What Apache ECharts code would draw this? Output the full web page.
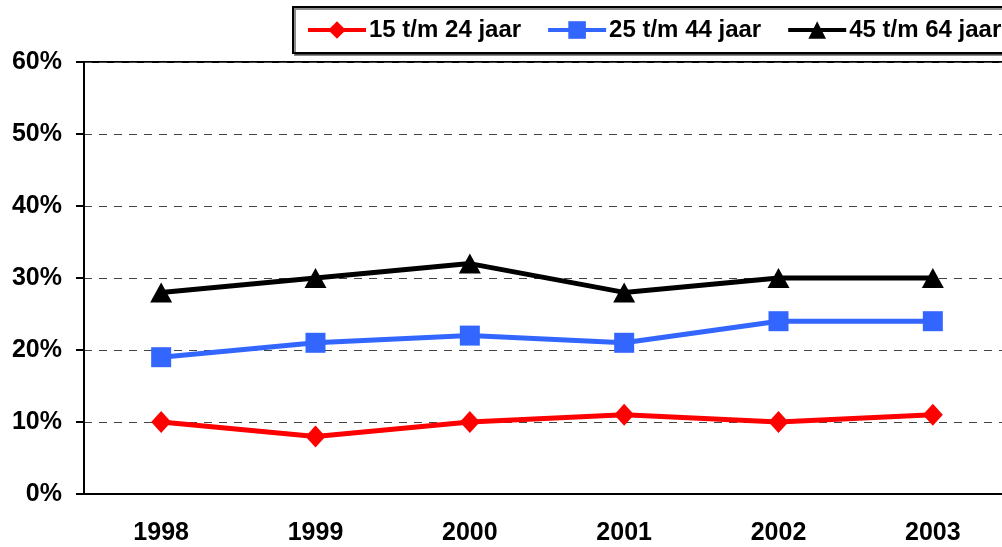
<!DOCTYPE html>
<html>
<head>
<meta charset="utf-8">
<script src="https://cdn.jsdelivr.net/npm/echarts@6/dist/echarts.min.js"></script>
<style>
html, body { margin: 0; padding: 0; background: #fff; overflow: hidden; }
#main { width: 1002px; height: 547px; }
</style>
</head>
<body>
<div id="main"></div>
<script>
var years = ['1998', '1999', '2000', '2001', '2002', '2003'];
var jong = [0.10, 0.08, 0.10, 0.11, 0.10, 0.11];    // 15 t/m 24 jaar
var midden = [0.19, 0.21, 0.22, 0.21, 0.24, 0.24];  // 25 t/m 44 jaar
var oud = [0.28, 0.30, 0.32, 0.28, 0.30, 0.30];     // 45 t/m 64 jaar
var names = ['15 t/m 24 jaar', '25 t/m 44 jaar', '45 t/m 64 jaar'];

var chart = echarts.init(document.getElementById('main'));
var font = 'Liberation Sans, Arial, sans-serif';

option = {
    backgroundColor: '#fff',
    animation: false,
    textStyle: { fontFamily: font },
    legend: {
        left: 293,
        top: 7,
        width: 760,
        padding: [11, 20, 11, 13],
        itemGap: 25,
        itemWidth: 58,
        itemHeight: 22,
        borderColor: '#000',
        borderWidth: 2,
        backgroundColor: '#fff',
        shadowColor: 'rgba(0,0,0,0.45)',
        shadowOffsetX: 2,
        shadowOffsetY: 2,
        shadowBlur: 0,
        lineStyle: { width: 4 },
        textStyle: { fontSize: 24, fontWeight: 'bold', color: '#000', fontFamily: font, padding: [0, 0, 0, -2] },
        data: names
    },
    grid: {
        left: 84,
        top: 62,
        width: 926,
        bottom: 53,
        outerBoundsMode: 'none',
        containLabel: false,
        show: true,
        borderColor: '#000',
        borderWidth: 2
    },
    xAxis: {
        type: 'category',
        data: years,
        axisLine: { lineStyle: { color: '#000', width: 2 } },
        axisTick: { length: 8, lineStyle: { color: '#000', width: 2 } },
        axisLabel: { margin: 27, fontSize: 25, fontWeight: 'bold', color: '#000', fontFamily: font }
    },
    yAxis: {
        type: 'value',
        min: 0,
        max: 0.6,
        interval: 0.1,
        axisLine: { show: true, lineStyle: { color: '#000', width: 2 } },
        axisTick: { show: true, length: 8, lineStyle: { color: '#000', width: 2 } },
        axisLabel: {
            margin: 22,
            fontSize: 25,
            fontWeight: 'bold',
            color: '#000',
            fontFamily: font,
            formatter: function (v) { return Math.round(v * 100) + '%'; }
        },
        splitLine: { lineStyle: { color: '#444', type: [8, 7], width: 1 } }
    },
    series: [{
        name: names[0],
        type: 'line',
        data: jong,
        symbol: 'diamond',
        symbolSize: [20, 22],
        color: '#ff0000',
        lineStyle: { width: 5, color: '#ff0000' },
        itemStyle: { color: '#ff0000' }
    }, {
        name: names[1],
        type: 'line',
        data: midden,
        symbol: 'rect',
        symbolSize: 20,
        color: '#3366ff',
        lineStyle: { width: 5, color: '#3366ff' },
        itemStyle: { color: '#3366ff' }
    }, {
        name: names[2],
        type: 'line',
        data: oud,
        symbol: 'triangle',
        symbolSize: [22, 20],
        color: '#000',
        lineStyle: { width: 5, color: '#000' },
        itemStyle: { color: '#000' }
    }]
};
chart.setOption(option);
</script>
</body>
</html>
